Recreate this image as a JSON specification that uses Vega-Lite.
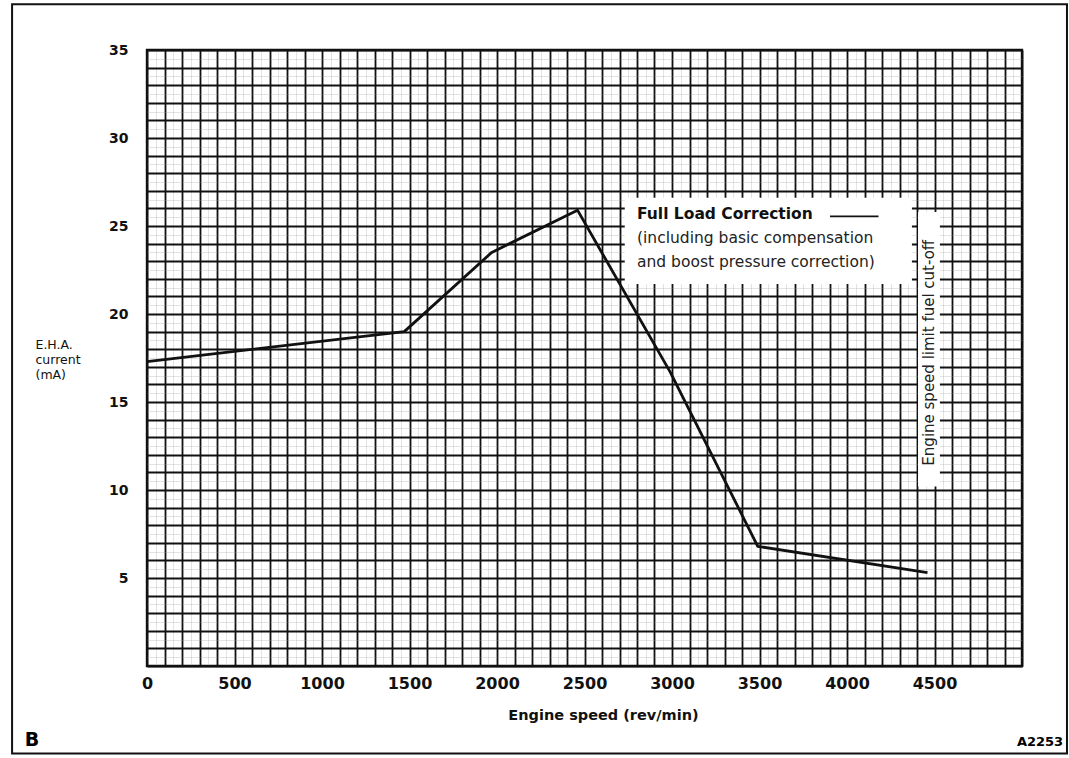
{
  "$schema": "https://vega.github.io/schema/vega-lite/v6.json",
  "width": 875,
  "height": 616,
  "autosize": {"type": "none"},
  "padding": {"left": 147, "top": 50, "right": 47, "bottom": 92},
  "background": "white",
  "config": {"view": {"stroke": "#111", "strokeWidth": 2.4}, "font": "DejaVu Sans"},
  "datasets": {
    "curve": [
      {"speed": 0, "current": 17.3},
      {"speed": 1470, "current": 19.0},
      {"speed": 1970, "current": 23.5},
      {"speed": 2460, "current": 25.9},
      {"speed": 2990, "current": 16.7},
      {"speed": 3490, "current": 6.8},
      {"speed": 4460, "current": 5.3}
    ],
    "masks": [
      {"x0": 2730, "x1": 4371, "y0": 21.7, "y1": 26.6},
      {"x0": 4406, "x1": 4531, "y0": 10.2, "y1": 25.8}
    ],
    "heading": [{"x": 2800, "y": 25.7, "text": "Full Load Correction"}],
    "body": [
      {"x": 2800, "y": 24.34, "text": "(including basic compensation"},
      {"x": 2800, "y": 22.97, "text": "and boost pressure correction)"}
    ],
    "vertical": [{"x": 4469, "y": 17.8, "text": "Engine speed limit fuel cut-off"}],
    "leader": [{"x0": 3903, "x1": 4180, "y": 25.55}],
    "frame": [{"x0": -771, "x1": 5257, "y0": -4.97, "y1": 37.6}],
    "letter": [{"x": -657, "y": -4.2, "text": "B"}],
    "code": [{"x": 5103, "y": -4.3, "text": "A2253"}]
  },
  "layer": [
    {
      "data": {"name": "curve"},
      "mark": {"type": "line", "opacity": 0},
      "encoding": {
        "x": {
          "field": "speed", "type": "quantitative",
          "scale": {"domain": [0, 5000], "nice": false, "zero": false},
          "axis": {
            "orient": "bottom", "title": null, "labels": false, "ticks": false, "domain": false,
            "grid": true, "gridColor": "#9a9a9a", "gridWidth": 0.8, "gridOpacity": 0.35,
            "values": [50,150,250,350,450,550,650,750,850,950,1050,1150,1250,1350,1450,1550,1650,1750,1850,1950,2050,2150,2250,2350,2450,2550,2650,2750,2850,2950,3050,3150,3250,3350,3450,3550,3650,3750,3850,3950,4050,4150,4250,4350,4450,4550,4650,4750,4850,4950]
          }
        },
        "y": {
          "field": "current", "type": "quantitative",
          "scale": {"domain": [0, 35], "nice": false},
          "axis": {
            "orient": "left", "title": null, "labels": false, "ticks": false, "domain": false,
            "grid": true, "gridColor": "#9a9a9a", "gridWidth": 0.8, "gridOpacity": 0.35,
            "values": [0.5,1.5,2.5,3.5,4.5,5.5,6.5,7.5,8.5,9.5,10.5,11.5,12.5,13.5,14.5,15.5,16.5,17.5,18.5,19.5,20.5,21.5,22.5,23.5,24.5,25.5,26.5,27.5,28.5,29.5,30.5,31.5,32.5,33.5,34.5]
          }
        }
      }
    },
    {
      "data": {"name": "curve"},
      "mark": {"type": "line", "opacity": 0},
      "encoding": {
        "x": {
          "field": "speed", "type": "quantitative",
          "axis": {
            "orient": "bottom",
            "title": "Engine speed (rev/min)",
            "titleFont": "DejaVu Sans", "titleFontSize": 14.5, "titleFontWeight": "bold", "titleColor": "#111",
            "titleX": 456, "titleY": 53, "titleBaseline": "alphabetic", "titleAlign": "center",
            "ticks": false, "domain": false, "format": "d",
            "labelFont": "DejaVu Sans", "labelFontSize": 16, "labelFontWeight": "bold", "labelColor": "#111",
            "labelPadding": 17, "labelBaseline": "middle", "labelFlush": false, "labelOverlap": false,
            "labelExpr": "datum.value % 500 === 0 && datum.value <= 4500 ? datum.label : ''",
            "grid": true, "gridColor": "#111", "gridWidth": 1.8, "gridOpacity": 1,
            "values": [0,100,200,300,400,500,600,700,800,900,1000,1100,1200,1300,1400,1500,1600,1700,1800,1900,2000,2100,2200,2300,2400,2500,2600,2700,2800,2900,3000,3100,3200,3300,3400,3500,3600,3700,3800,3900,4000,4100,4200,4300,4400,4500,4600,4700,4800,4900,5000]
          }
        },
        "y": {
          "field": "current", "type": "quantitative",
          "axis": {
            "orient": "left",
            "title": ["E.H.A.", "current", "(mA)"],
            "titleFont": "DejaVu Sans", "titleFontSize": 12.5, "titleFontWeight": "normal", "titleColor": "#111",
            "titleAngle": 0, "titleAlign": "left", "titleBaseline": "top", "titleLineHeight": 15,
            "titleX": -112, "titleY": 288,
            "ticks": false, "domain": false,
            "labelFont": "DejaVu Sans", "labelFontSize": 14, "labelFontWeight": "bold", "labelColor": "#111",
            "labelPadding": 19, "labelAlign": "right", "labelBaseline": "middle", "labelFlush": false, "labelOverlap": false,
            "labelExpr": "datum.value % 5 === 0 && datum.value > 0 ? datum.label : ''",
            "grid": true, "gridColor": "#111", "gridWidth": 1.8, "gridOpacity": 1,
            "values": [0,1,2,3,4,5,6,7,8,9,10,11,12,13,14,15,16,17,18,19,20,21,22,23,24,25,26,27,28,29,30,31,32,33,34,35]
          }
        }
      }
    },
    {
      "data": {"name": "masks"},
      "mark": {"type": "rect", "fill": "white"},
      "encoding": {
        "x": {"field": "x0", "type": "quantitative", "axis": null},
        "x2": {"field": "x1"},
        "y": {"field": "y0", "type": "quantitative", "axis": null},
        "y2": {"field": "y1"}
      }
    },
    {
      "data": {"name": "curve"},
      "mark": {"type": "line", "color": "#111", "strokeWidth": 2.8, "strokeJoin": "round"},
      "encoding": {
        "x": {"field": "speed", "type": "quantitative", "axis": null},
        "y": {"field": "current", "type": "quantitative", "axis": null}
      }
    },
    {
      "data": {"name": "leader"},
      "mark": {"type": "rule", "color": "#111", "strokeWidth": 1.8},
      "encoding": {
        "x": {"field": "x0", "type": "quantitative", "axis": null},
        "x2": {"field": "x1"},
        "y": {"field": "y", "type": "quantitative", "axis": null}
      }
    },
    {
      "data": {"name": "heading"},
      "mark": {"type": "text", "align": "left", "baseline": "middle", "font": "DejaVu Sans", "fontSize": 15.5, "fontWeight": "bold", "color": "#111"},
      "encoding": {
        "x": {"field": "x", "type": "quantitative", "axis": null},
        "y": {"field": "y", "type": "quantitative", "axis": null},
        "text": {"field": "text"}
      }
    },
    {
      "data": {"name": "body"},
      "mark": {"type": "text", "align": "left", "baseline": "middle", "font": "DejaVu Sans", "fontSize": 15.5, "color": "#222"},
      "encoding": {
        "x": {"field": "x", "type": "quantitative", "axis": null},
        "y": {"field": "y", "type": "quantitative", "axis": null},
        "text": {"field": "text"}
      }
    },
    {
      "data": {"name": "vertical"},
      "mark": {"type": "text", "align": "center", "baseline": "middle", "angle": 270, "font": "DejaVu Sans", "fontSize": 15, "color": "#222"},
      "encoding": {
        "x": {"field": "x", "type": "quantitative", "axis": null},
        "y": {"field": "y", "type": "quantitative", "axis": null},
        "text": {"field": "text"}
      }
    },
    {
      "data": {"name": "frame"},
      "mark": {"type": "rect", "filled": false, "stroke": "#111", "strokeWidth": 2, "clip": false},
      "encoding": {
        "x": {"field": "x0", "type": "quantitative", "axis": null},
        "x2": {"field": "x1"},
        "y": {"field": "y0", "type": "quantitative", "axis": null},
        "y2": {"field": "y1"}
      }
    },
    {
      "data": {"name": "letter"},
      "mark": {"type": "text", "align": "center", "baseline": "middle", "font": "DejaVu Sans", "fontSize": 19, "fontWeight": "bold", "color": "#000"},
      "encoding": {
        "x": {"field": "x", "type": "quantitative", "axis": null},
        "y": {"field": "y", "type": "quantitative", "axis": null},
        "text": {"field": "text"}
      }
    },
    {
      "data": {"name": "code"},
      "mark": {"type": "text", "align": "center", "baseline": "middle", "font": "DejaVu Sans", "fontSize": 13, "fontWeight": "bold", "color": "#000"},
      "encoding": {
        "x": {"field": "x", "type": "quantitative", "axis": null},
        "y": {"field": "y", "type": "quantitative", "axis": null},
        "text": {"field": "text"}
      }
    }
  ],
  "resolve": {"axis": {"x": "independent", "y": "independent"}}
}
